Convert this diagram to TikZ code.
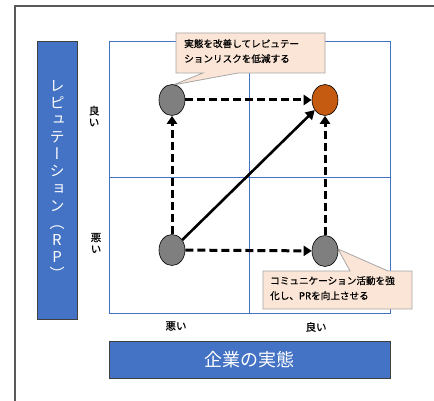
\documentclass[tikz,border=0pt]{standalone}
\usepackage{fontspec}
\setmainfont{Noto Sans CJK JP}
\newfontfamily\cjkv[RawFeature=+vert]{Noto Sans CJK JP}
\newfontfamily\cjkb[FakeBold=0.6]{Noto Sans CJK JP}
\usetikzlibrary{arrows.meta,shapes.geometric}
\definecolor{gridblue}{HTML}{4472C4}
\definecolor{boxblue}{HTML}{4472C4}
\definecolor{calfill}{HTML}{FBE5D6}
\definecolor{calline}{HTML}{A6A6A6}
\definecolor{dotgray}{HTML}{7F7F7F}
\definecolor{dotorange}{HTML}{C55A11}
\tikzset{
  dot/.style={ellipse,draw=black,line width=0.6pt,fill=dotgray,minimum width=26pt,minimum height=31pt,inner sep=0pt},
  dasharrow/.style={line width=3pt,dash pattern=on 8pt off 4pt,-{Triangle[length=8pt,width=10pt]}},
  solidarrow/.style={line width=2.6pt,-{Triangle[length=9pt,width=10pt]}},
  callout/.style={fill=calfill,draw=calline,line width=0.8pt},
  caltext/.style={anchor=north west,align=left,font=\cjkb\fontsize{9.6}{15}\selectfont,inner sep=0pt},
  axlab/.style={inner sep=0pt},
  titlebox/.style={fill=boxblue,draw=black!75,line width=0.8pt}
}
\begin{document}
\begin{tikzpicture}[x=1pt,y=-1pt]
\useasboundingbox (0,0) rectangle (434,401);
\fill[white] (0,0) rectangle (434,401);
% outer frame
\draw[line width=1.5pt,color=black!65] (15,401) -- (15,6) -- (434,6);
% grid
\draw[gridblue,line width=0.7pt] (109,41) rectangle (390,313);
\draw[gridblue,line width=0.7pt] (249,41) -- (249,313);
\draw[gridblue,line width=0.7pt] (109,177) -- (390,177);
% left title box
\draw[titlebox] (37,41) rectangle (77,319);
\node[text=white,align=center,font=\cjkv\fontsize{15}{17.1}\selectfont,inner sep=0pt] (ylab) at (57,180)
  {レ\\ピ\\ュ\\テ\\ー\\シ\\ョ\\ン\\（\\R\\P\\）};
% bottom title box
\draw[titlebox] (109,341) rectangle (390,378);
\node[text=white,font=\fontsize{18}{20}\selectfont,inner sep=0pt] (xlab) at (249,360) {企業の実態};
% axis labels
\node[axlab,align=center,font=\cjkb\fontsize{10.5}{11.5}\selectfont] (ygood) at (94,116) {良\\い};
\node[axlab,align=center,font=\cjkb\fontsize{10.5}{11.5}\selectfont] (ybad) at (96,243) {悪\\い};
\node[axlab,font=\cjkb\fontsize{10.5}{12}\selectfont] (xbad) at (176,326) {悪い};
\node[axlab,font=\cjkb\fontsize{10.5}{12}\selectfont] (xgood) at (316,327) {良い};
% callouts
\draw[callout] (176,33) -- (325,33) -- (325,73) -- (238,73) -- (173,85) -- (203,73) -- (176,73) -- cycle;
\node[caltext] (c1) at (184,39) {実態を改善してレピュテー\\ションリスクを低減する};
\draw[callout] (263,271) -- (350,271) -- (338,249) -- (388,271) -- (412,271) -- (412,309) -- (263,309) -- cycle;
\node[caltext] (c2) at (270,276) {コミュニケーション活動を強\\化し、PRを向上させる};
% dots
\node[dot] (tl) at (172,100) {};
\node[dot,fill=dotorange] (tr) at (325,100) {};
\node[dot] (bl) at (172,250) {};
\node[dot] (br) at (325,251) {};
% arrows
\draw[dasharrow] (tl) -- (tr);
\draw[dasharrow] (bl) -- (br);
\draw[dasharrow] (bl) -- (tl);
\draw[dasharrow] (br) -- (tr);
\draw[solidarrow] (bl) -- (tr);
\end{tikzpicture}
\end{document}
